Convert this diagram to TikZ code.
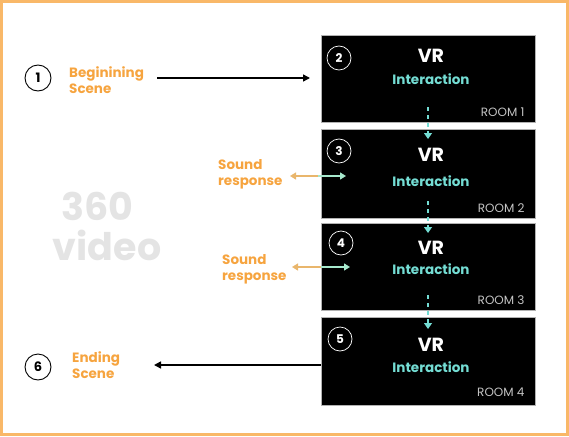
\documentclass[tikz,border=0pt]{standalone}
\usepackage{fontspec}
\setmainfont{Poppins}
\usetikzlibrary{arrows.meta}
\definecolor{orng}{HTML}{F6A43F}
\definecolor{framec}{HTML}{F9B868}
\definecolor{cyn}{HTML}{74DDD4}
\definecolor{roomgray}{HTML}{C4C4C4}
\definecolor{ghost}{HTML}{E4E4E4}
\definecolor{mint}{HTML}{A6E8CC}
\definecolor{sand}{HTML}{E9B66C}
\begin{document}
\begin{tikzpicture}[x=1pt,y=-1pt,
 room/.style={fill=black,draw=gray!60,line width=0.6pt,minimum width=214pt,inner sep=0pt},
 numw/.style={circle,draw=white,text=white,line width=0.7pt,minimum size=24pt,inner sep=0pt,font=\bfseries\fontsize{12}{12}\selectfont},
 numb/.style={circle,draw=black,text=black,line width=0.9pt,minimum size=26pt,inner sep=0pt,font=\bfseries\fontsize{13}{13}\selectfont},
 vr/.style={text=white,font=\bfseries\fontsize{19}{19}\selectfont},
 inter/.style={text=cyn,font=\bfseries\fontsize{13.5}{13.5}\selectfont},
 roomlbl/.style={text=roomgray,font=\fontsize{12}{12}\selectfont,anchor=east},
 lbl/.style={text=orng,font=\bfseries\fontsize{13.5}{16}\selectfont,align=left,anchor=west,inner sep=0pt},
 flow/.style={draw=cyn,dash pattern=on 4pt off 4pt,line width=1.3pt,-{Triangle[length=6pt,width=8pt]}},
 mainarrow/.style={draw=black,line width=1.5pt,-{Triangle[length=7pt,width=7pt]}},
 ghosttxt/.style={text=ghost,font=\bfseries\fontsize{38}{38}\selectfont,inner sep=0pt}
]
\useasboundingbox (0,0) rectangle (569,436);
\draw[framec,line width=3pt] (1.5,1.5) rectangle (567.5,434.5);

% rooms
\node[room,minimum height=87pt] (r1) at (428,78.5) {};
\node[room,minimum height=89pt] (r2) at (428,173.5) {};
\node[room,minimum height=87pt] (r3) at (428,266.5) {};
\node[room,minimum height=88pt] (r4) at (428,361) {};

\node[numw] (n2) at (339,58) {2};
\node[numw] (n3) at (339,151) {3};
\node[numw] (n4) at (341,243) {4};
\node[numw] (n5) at (340,339) {5};

\node[vr] (v1) at (431,56) {VR};
\node[vr] (v2) at (431,155) {VR};
\node[vr] (v3) at (431,248) {VR};
\node[vr] (v4) at (431,345) {VR};
\node[inter] (i1) at (431,79) {Interaction};
\node[inter] (i2) at (431,181) {Interaction};
\node[inter] (i3) at (431,269) {Interaction};
\node[inter] (i4) at (431,367) {Interaction};
\node[roomlbl] (l1) at (528,112) {ROOM 1};
\node[roomlbl] (l2) at (528,208) {ROOM 2};
\node[roomlbl] (l3) at (528,300) {ROOM 3};
\node[roomlbl] (l4) at (528,392) {ROOM 4};

% left side
\node[numb] (n1) at (38,78) {1};
\node[numb] (n6) at (38,367) {6};
\node[lbl] (begin) at (69,80) {Beginining\\Scene};
\node[lbl] (end) at (72,365) {Ending\\Scene};
\node[lbl] (s1) at (218,174) {Sound\\response};
\node[lbl] (s2) at (222,269) {Sound\\response};
\node[ghosttxt] (g1) at (97,206) {360};
\node[ghosttxt] (g2) at (107,245) {video};

% connectors
\coordinate (a1s) at (157,78);
\coordinate (a1e) at (310,78);
\draw[mainarrow] (a1s) -- (a1e);
\coordinate (a6s) at (r4.west |- 0,365);
\coordinate (a6e) at (154,365);
\draw[mainarrow] (a6s) -- (a6e);

\coordinate (d1s) at (428,107);
\coordinate (d1e) at (428,139);
\coordinate (d2s) at (428,201);
\coordinate (d2e) at (428,233);
\coordinate (d3s) at (428,295);
\coordinate (d3e) at (428,329);
\draw[flow] (d1s) -- (d1e);
\draw[flow] (d2s) -- (d2e);
\draw[flow] (d3s) -- (d3e);

% sound arrows
\coordinate (b1l) at (290,176);
\coordinate (b1m) at (318,176);
\coordinate (b1r) at (346,176);
\draw[sand,line width=1.3pt,-{Triangle[length=6pt,width=7pt]}] (b1m) -- (b1l);
\draw[mint,line width=1.3pt,-{Triangle[length=6pt,width=7pt]}] (b1m) -- (b1r);
\coordinate (b2l) at (292,267);
\coordinate (b2m) at (321,267);
\coordinate (b2r) at (350,267);
\draw[sand,line width=1.3pt,-{Triangle[length=6pt,width=7pt]}] (b2m) -- (b2l);
\draw[mint,line width=1.3pt,-{Triangle[length=6pt,width=7pt]}] (b2m) -- (b2r);
\end{tikzpicture}
\end{document}
